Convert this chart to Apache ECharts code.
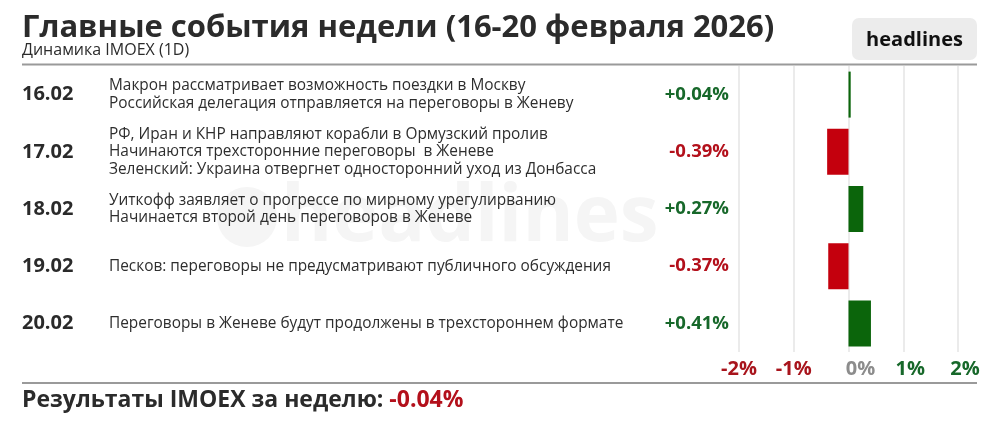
<!DOCTYPE html>
<html><head><meta charset="utf-8">
<script src="https://cdn.jsdelivr.net/npm/echarts@6/dist/echarts.min.js"></script>
<style>html,body{margin:0;padding:0;background:#fff}#c{width:1000px;height:438px}</style>
</head><body><div id="c"></div>
<script>
const dates = ['16.02', '17.02', '18.02', '19.02', '20.02'];
const events = [
  ['Макрон рассматривает возможность поездки в Москву', 'Российская делегация отправляется на переговоры в Женеву'],
  ['РФ, Иран и КНР направляют корабли в Ормузский пролив', 'Начинаются трехсторонние переговоры  в Женеве', 'Зеленский: Украина отвергнет односторонний уход из Донбасса'],
  ['Уиткофф заявляет о прогрессе по мирному урегулирванию', 'Начинается второй день переговоров в Женеве'],
  ['Песков: переговоры не предусматривают публичного обсуждения'],
  ['Переговоры в Женеве будут продолжены в трехстороннем формате']
];
const changes = [0.04, -0.39, 0.27, -0.37, 0.41];
const xTicks = [-2, -1, 0, 1, 2];
const weekResult = -0.04;
const titleText = 'Главные события недели (16-20 февраля 2026)';
const subtitleText = 'Динамика IMOEX (1D)';
const resultLabel = 'Результаты IMOEX за неделю: ';
const brand = 'headlines';

const FONT = 'Open Sans';
const GREEN = '#0b650b', RED = '#c4000d';
const fmtPct = v => (v > 0 ? '+' : '') + v.toFixed(2) + '%';

const chart = echarts.init(document.getElementById('c'), null, {renderer: 'canvas'});
const catAxisBase = {
  type: 'category', inverse: true, position: 'left', offset: 0,
  axisLine: {show: false}, axisTick: {show: false}, splitLine: {show: false}
};
chart.setOption({
  animation: false,
  backgroundColor: '#ffffff',
  textStyle: {fontFamily: FONT},
  grid: {left: 739, right: 42, top: 66, bottom: 86},
  xAxis: {
    type: 'value', min: xTicks[0], max: xTicks[xTicks.length - 1], interval: 1,
    axisLine: {show: false}, axisTick: {show: false},
    splitLine: {show: true, lineStyle: {color: '#e4e4e4', width: 1.5}},
    axisLabel: {
      margin: 7,
      formatter: v => v < 0 ? `{n|${v}%}` : (v === 0 ? `{z|${v}%}` : `{p|${v}%}`),
      rich: {
        n: {color: '#a8141c', fontSize: 20, fontWeight: 'bold', fontFamily: FONT},
        z: {color: '#8c8c8c', fontSize: 20, fontWeight: 'bold', fontFamily: FONT, padding: [0, 0, 0, 24]},
        p: {color: '#17682a', fontSize: 20, fontWeight: 'bold', fontFamily: FONT, padding: [0, 0, 0, 14]}
      }
    }
  },
  yAxis: [
    Object.assign({}, catAxisBase, {
      data: dates,
      axisLabel: {interval: 0, align: 'left', margin: 717, fontSize: 20, fontWeight: 'bold', color: '#2a2a2a', fontFamily: FONT}
    }),
    Object.assign({}, catAxisBase, {
      data: events.map(e => e.join('\n')),
      axisLabel: {interval: 0, align: 'left', margin: 630, fontSize: 15.4, lineHeight: 17.5, color: '#2e2e2e', fontFamily: FONT}
    }),
    Object.assign({}, catAxisBase, {
      data: changes.map(fmtPct),
      axisLabel: {
        interval: 0, align: 'right', margin: 10,
        formatter: v => v.charAt(0) === '-' ? `{r|${v}}` : `{g|${v}}`,
        rich: {
          r: {color: '#b3101b', fontSize: 18.5, fontWeight: 'bold', fontFamily: FONT},
          g: {color: '#17682a', fontSize: 18.5, fontWeight: 'bold', fontFamily: FONT}
        }
      }
    })
  ],
  series: [{
    type: 'bar', yAxisIndex: 0, barWidth: 46, z: 5,
    data: changes.map(v => ({value: v, itemStyle: {color: v >= 0 ? GREEN : RED}}))
  }],
  graphic: [
    {type: 'circle', z: -10, shape: {cx: 247, cy: 217, r: 30}, style: {fill: '#f5f5f5'}},
    {type: 'text', z: -10, style: {text: brand, x: 281, y: 219, verticalAlign: 'middle', fontSize: 78, fontWeight: 'bold', fontFamily: FONT, fill: '#f5f5f5'}},
    {type: 'text', style: {text: titleText, x: 22, y: 28, verticalAlign: 'middle', fontSize: 31, fontWeight: 'bold', fontFamily: FONT, fill: '#2b2b2b'}},
    {type: 'text', style: {text: subtitleText, x: 22, y: 50, verticalAlign: 'middle', fontSize: 16, fontFamily: FONT, fill: '#2b2b2b'}},
    {type: 'line', shape: {x1: 22, y1: 64.5, x2: 977, y2: 64.5}, style: {stroke: '#9a9a9a', lineWidth: 2}},
    {type: 'rect', shape: {x: 852, y: 18, width: 125, height: 42, r: 7}, style: {fill: '#ececec'}},
    {type: 'text', style: {text: brand, x: 914.5, y: 40, align: 'center', verticalAlign: 'middle', fontSize: 20, fontWeight: 'bold', fontFamily: FONT, fill: '#111111'}},
    {type: 'line', shape: {x1: 22, y1: 383, x2: 977, y2: 383}, style: {stroke: '#9a9a9a', lineWidth: 2}},
    {type: 'text', style: {
      text: `{a|${resultLabel}}{b|${fmtPct(weekResult)}}`, x: 22, y: 400, verticalAlign: 'middle',
      rich: {
        a: {fontSize: 23, fontWeight: 'bold', fontFamily: FONT, fill: '#2b2b2b', color: '#2b2b2b'},
        b: {fontSize: 23, fontWeight: 'bold', fontFamily: FONT, fill: '#b3101b', color: '#b3101b'}
      }
    }}
  ]
});
</script></body></html>
